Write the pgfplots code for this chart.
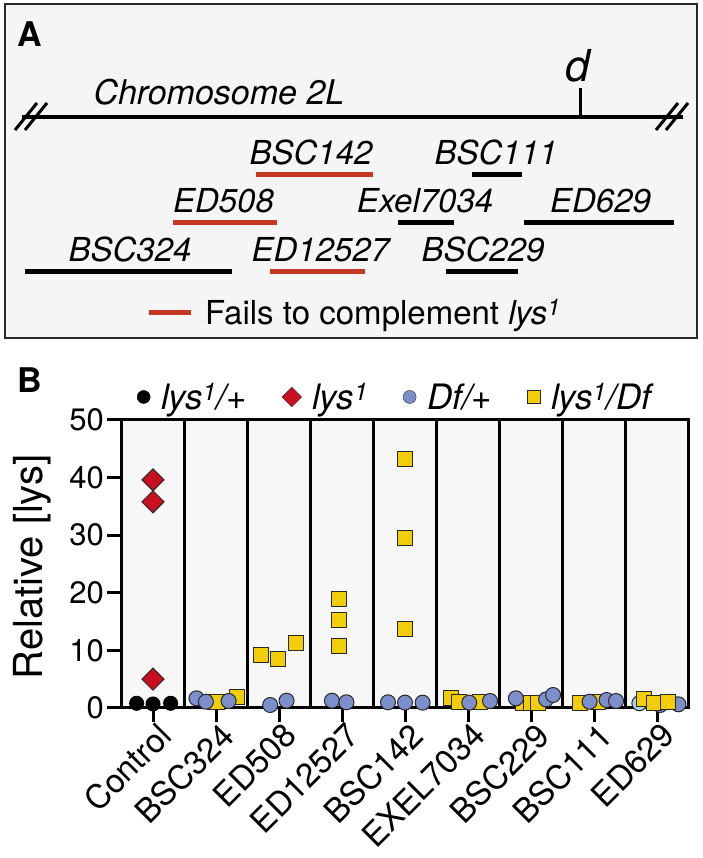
\documentclass[border=0pt]{standalone}
\usepackage{fontspec}
\setmainfont{TeX Gyre Heros}
\usepackage{pgfplots}
\pgfplotsset{compat=1.18}
\definecolor{redD}{RGB}{200,16,32}
\definecolor{blueC}{RGB}{125,142,204}
\definecolor{lblueC}{RGB}{168,212,228}
\definecolor{yelS}{RGB}{242,206,10}
\definecolor{edgeC}{RGB}{40,40,40}
\definecolor{segRed}{RGB}{196,56,36}
\definecolor{boxFill}{RGB}{245,245,245}
\definecolor{bgB}{RGB}{247,247,247}
\newcommand{\fs}[1]{\fontsize{#1}{#1}\selectfont}
\begin{document}
\begin{tikzpicture}
\useasboundingbox (0,0) rectangle (702pt,858pt);
% ---------------- Panel A (pixel coordinates, y downwards)
\begin{axis}[at={(0pt,0pt)}, anchor=south west, width=702pt, height=858pt, scale only axis,
  xmin=0, xmax=702, ymin=0, ymax=858, y dir=reverse, hide axis, clip=false]
\addplot[draw=edgeC, line width=2.5pt, fill=boxFill, line join=miter] coordinates {(5,4)(697,4)(697,338)(5,338)(5,4)(697,4)};
% chromosome
\addplot[black, line width=4pt] coordinates {(22,117)(683,117)};
\addplot[black, line width=3pt] coordinates {(15,130)(37,103)};
\addplot[black, line width=3pt] coordinates {(25,130)(47,103)};
\addplot[black, line width=3pt] coordinates {(656,130)(678,103)};
\addplot[black, line width=3pt] coordinates {(666,130)(688,103)};
\addplot[black, line width=3pt] coordinates {(580,88)(580,117)};
% deficiencies
\addplot[segRed, line width=5pt] coordinates {(256,175)(373,175)};
\addplot[black, line width=5pt] coordinates {(472,175)(522,175)};
\addplot[segRed, line width=5pt] coordinates {(173,223)(277,223)};
\addplot[black, line width=5pt] coordinates {(398,223)(454,223)};
\addplot[black, line width=5pt] coordinates {(524,223)(674,223)};
\addplot[black, line width=5pt] coordinates {(25,272)(232,272)};
\addplot[segRed, line width=5pt] coordinates {(270,272)(365,272)};
\addplot[black, line width=5pt] coordinates {(446,272)(518,272)};
\addplot[segRed, line width=5pt] coordinates {(149,313)(191,313)};
% texts
\node[anchor=base, font=\fs{34}\bfseries] at (axis cs:29.5,47) {A};
\node[anchor=base west, font=\fs{34}\itshape] at (axis cs:90,105) {Chromosome 2L};
\node[anchor=base, font=\fs{44}\itshape] at (axis cs:578,82) {d};
\node[anchor=base, font=\fs{33}\itshape] at (axis cs:311,165) {BSC142};
\node[anchor=base, font=\fs{33}\itshape] at (axis cs:496,165) {BSC111};
\node[anchor=base, font=\fs{33}\itshape] at (axis cs:223.5,213) {ED508};
\node[anchor=base, font=\fs{33}\itshape] at (axis cs:425,213) {Exel7034};
\node[anchor=base, font=\fs{33}\itshape] at (axis cs:600.5,213) {ED629};
\node[anchor=base, font=\fs{33}\itshape] at (axis cs:130,262) {BSC324};
\node[anchor=base, font=\fs{33}\itshape] at (axis cs:320.5,262) {ED12527};
\node[anchor=base, font=\fs{33}\itshape] at (axis cs:483,262) {BSC229};
\node[anchor=base west, font=\fs{33}, inner sep=0pt] at (axis cs:205,325) {Fails to complement \textit{lys}\textsuperscript{\textit{1}}};
\end{axis}
% ---------------- Panel B
\begin{axis}[at={(121.5pt,150pt)}, anchor=south west, width=567pt, height=288pt, scale only axis,
  xmin=-0.5, xmax=8.5, ymin=0, ymax=50, clip=false,
  axis background/.style={fill=bgB},
  axis line style={line width=3pt, black},
  every tick/.style={black, line width=3pt},
  tick align=outside, major tick length=14pt, tick pos=left,
  xtick={0,...,8},
  xticklabels={Control,BSC324,ED508,ED12527,BSC142,EXEL7034,BSC229,BSC111,ED629},
  x tick label style={font=\fs{33}, rotate=45, anchor=north east, inner sep=1pt, xshift=4pt},
  ytick={0,10,...,50},
  y tick label style={font=\fs{31}},
  /pgf/number format/assume math mode=true,
  extra x ticks={0.5,1.5,...,7.5}, extra x tick labels={},
  extra x tick style={major tick length=0pt, grid=major, major grid style={black, line width=3pt}},
  ylabel={Relative [lys]},
  ylabel style={font=\fs{40}, at={(axis description cs:-0.158,0.49)}, anchor=center},
  legend style={at={(axis description cs:0.0273,1.08)}, anchor=west, draw=none, fill=none,
    inner sep=0pt, font=\fs{35}\itshape, legend columns=4,
    /tikz/every odd column/.append style={column sep=9pt},
    /tikz/every even column/.append style={column sep=33pt}},
  legend image code/.code={\draw[#1] plot coordinates {(7pt,0pt)};},
]
\addplot[only marks, mark=*, mark size=7pt, draw=black, fill=black, line width=1pt, forget plot]
  coordinates {(-0.26,0.82)(0,0.7)(0.28,0.82)};
\addplot[only marks, mark=square*, mark options={rotate=45}, mark size=7.8pt, draw=edgeC, fill=redD, line width=1pt, forget plot]
  coordinates {(0,39.6)(0,35.8)(0,5.0)};
\addplot[only marks, mark=square*, mark size=7.5pt, draw=edgeC, fill=yelS, line width=1pt, forget plot]
  coordinates {(0.98,1.0)(1.02,1.1)(1.34,1.94)
  (1.71,9.2)(1.99,8.45)(2.27,11.3)
  (2.96,18.9)(2.96,15.3)(2.96,10.8)
  (4,43.2)(4,29.6)(4,13.7)
  (4.73,1.68)(4.85,1.09)(5.19,1.09)
  (5.88,0.93)(6.0,0.9)(6.11,0.93)
  (6.78,0.93)(7.07,1.09)};
\addplot[only marks, mark=*, mark size=7.5pt, draw=edgeC, fill=blueC, line width=1pt, forget plot]
  coordinates {(0.69,1.68)(0.84,1.09)(1.2,1.22)
  (1.86,0.52)(2.12,1.27)
  (2.84,1.27)(3.07,0.99)
  (3.73,0.99)(4.0,0.93)(4.28,0.93)
  (5.02,0.93)(5.35,1.22)
  (5.76,1.68)(6.24,1.5)(6.35,2.26)
  (6.93,1.09)(7.2,1.39)(7.35,1.22)
  (8.05,0.52)(8.34,0.64)};
\addplot[only marks, mark=*, mark size=7.5pt, draw=edgeC, fill=lblueC, line width=1pt, forget plot]
  coordinates {(7.72,0.82)};
\addplot[only marks, mark=square*, mark size=7.5pt, draw=edgeC, fill=yelS, line width=1pt, forget plot]
  coordinates {(7.8,1.5)(7.96,0.82)(8.18,1.09)};
\addlegendimage{only marks, mark=*, mark size=6.5pt, draw=black, fill=black}
\addlegendentry{lys\textsuperscript{1}/+}
\addlegendimage{only marks, mark=square*, mark options={rotate=45}, mark size=7pt, draw=edgeC, fill=redD}
\addlegendentry{lys\textsuperscript{1}}
\addlegendimage{only marks, mark=*, mark size=6.5pt, draw=edgeC, fill=blueC}
\addlegendentry{Df/+}
\addlegendimage{only marks, mark=square*, mark size=6.5pt, draw=edgeC, fill=yelS}
\addlegendentry{lys\textsuperscript{1}/Df}
\node[anchor=base, font=\fs{34}\bfseries] at (axis description cs:-0.161,1.097) {B};
\end{axis}
\end{tikzpicture}
\end{document}
